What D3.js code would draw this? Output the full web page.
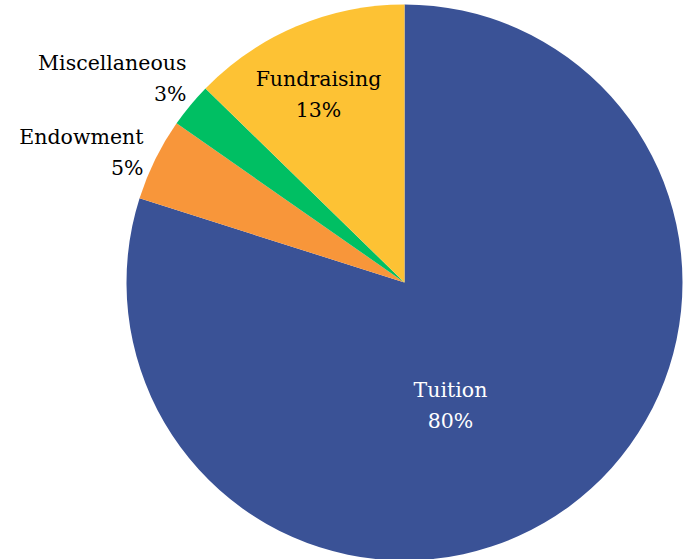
<!DOCTYPE html>
<html>
<head>
<meta charset="utf-8">
<script src="https://cdn.jsdelivr.net/npm/d3@7"></script>
<style>
  body { margin: 0; background: #fff; }
  text { font-family: "DejaVu Serif", "Liberation Serif", serif; font-size: 20.5px; }
</style>
</head>
<body>
<div id="chart"></div>
<script>
// Data
const categories = ["Tuition", "Endowment", "Miscellaneous", "Fundraising"];
const shares = [79.9, 4.8, 2.6, 12.7];
const pctLabels = ["80%", "5%", "3%", "13%"];

// Colours and label layout (offsets from pie centre)
const colors = ["#3a5296", "#f8963a", "#00bf63", "#fdc234"];
const textColors = ["#ffffff", "#000000", "#000000", "#000000"];
const labelAnchor = ["middle", "end", "end", "middle"];
const labelOffset = [[46, 114], [-261, -139], [-218, -213], [-86, -197]];
const lineGap = 31;

const width = 689, height = 559;
const cx = 404.5, cy = 282.5, radius = 278;

const svg = d3.select("#chart").append("svg")
    .attr("width", width)
    .attr("height", height);

const g = svg.append("g")
    .attr("transform", `translate(${cx},${cy})`);

const data = categories.map((c, i) => ({ name: c, value: shares[i], pct: pctLabels[i], i: i }));

const pie = d3.pie().sort(null).value(d => d.value);
const arc = d3.arc().innerRadius(0).outerRadius(radius);

// Slices
g.selectAll("path")
    .data(pie(data))
    .enter().append("path")
    .attr("d", arc)
    .attr("fill", d => colors[d.data.i]);

// Labels: category name and percentage on two lines
const labels = g.selectAll(".label")
    .data(data)
    .enter().append("text")
    .attr("class", "label")
    .attr("x", d => labelOffset[d.i][0])
    .attr("y", d => labelOffset[d.i][1])
    .attr("text-anchor", d => labelAnchor[d.i])
    .attr("fill", d => textColors[d.i]);

labels.append("tspan")
    .text(d => d.name);

labels.append("tspan")
    .attr("x", d => labelOffset[d.i][0])
    .attr("dy", lineGap)
    .text(d => d.pct);
</script>
</body>
</html>
